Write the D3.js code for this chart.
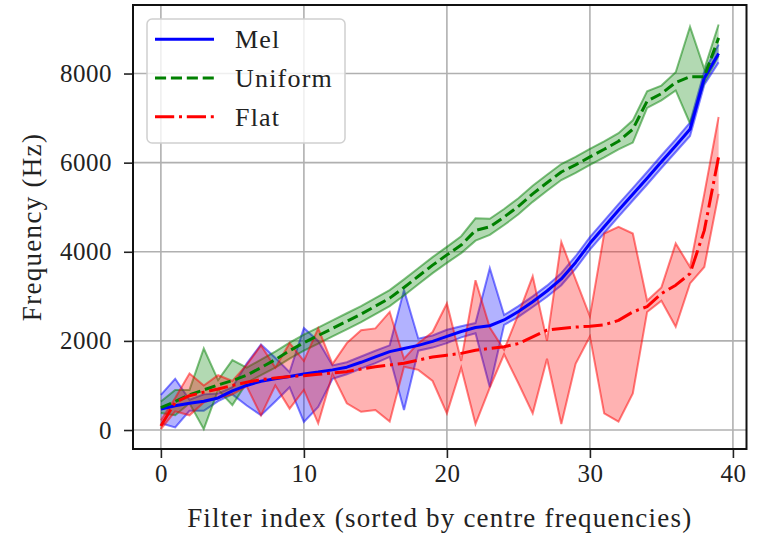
<!DOCTYPE html>
<html>
<head>
<meta charset="utf-8">
<script src="https://cdn.jsdelivr.net/npm/d3@7"></script>
<style>
  html, body { margin: 0; padding: 0; background: #fff; }
  svg { display: block; }
  text { font-family: "Liberation Serif", "DejaVu Serif", serif; fill: #222; }
</style>
</head>
<body>
<svg id="chart" width="765" height="533"></svg>
<script>
// Filter index (sorted by centre frequency)
const filterIndex = d3.range(40);

// Mel-initialised filters: mean centre frequency and spread
const melMean  = [470, 545, 600, 645, 720, 880, 1000, 1095, 1150, 1200, 1260, 1300, 1350, 1410, 1520, 1640, 1760, 1830, 1900, 1990,
                  2100, 2210, 2300, 2340, 2470, 2660, 2880, 3120, 3390, 3760, 4190, 4560, 4930, 5290, 5650, 6020, 6380, 6750, 7900, 8450];
const melLow   = [150, 60, 430, 430, 650, 800, 550, 330, 640, 960, 180, 520, 1150, 1250, 1380, 1500, 1640, 450, 1780, 1850,
                  1950, 2080, 2170, 960, 2360, 2540, 2760, 2990, 3250, 3620, 4050, 4420, 4790, 5150, 5510, 5880, 6240, 6600, 7750, 8250];
const melHigh  = [790, 1150, 680, 800, 820, 960, 1490, 1920, 1620, 1300, 2290, 2000, 1450, 1520, 1650, 1780, 1900, 3140, 2050, 2120,
                  2250, 2330, 2400, 3630, 2580, 2780, 3000, 3240, 3520, 3900, 4330, 4700, 5070, 5430, 5790, 6160, 6520, 6900, 8050, 8650];

// Uniformly initialised filters
const uniMean  = [500, 640, 790, 900, 1010, 1110, 1230, 1400, 1580, 1780, 1960, 2120, 2280, 2440, 2600, 2780, 2960, 3200, 3450, 3700,
                  3930, 4150, 4480, 4560, 4780, 5020, 5300, 5550, 5790, 5950, 6130, 6300, 6480, 6750, 7380, 7550, 7800, 7930, 7930, 8800];
const uniLow   = [380, 330, 600, 20, 900, 560, 1060, 1230, 1400, 1600, 1780, 1940, 2100, 2260, 2420, 2600, 2780, 3020, 3270, 3520,
                  3750, 3970, 4250, 4380, 4600, 4840, 5120, 5370, 5610, 5770, 5950, 6120, 6300, 6450, 7230, 7400, 7620, 6880, 7800, 8400];
const uniHigh  = [640, 900, 900, 1830, 1120, 1570, 1400, 1580, 1760, 1960, 2140, 2300, 2460, 2620, 2780, 2960, 3140, 3380, 3630, 3880,
                  4110, 4350, 4750, 4740, 4960, 5200, 5480, 5730, 5970, 6130, 6310, 6480, 6660, 6950, 7600, 7730, 8030, 9050, 8100, 9100];

// Flat-initialised filters
const flatMean = [90, 620, 770, 850, 920, 1000, 1070, 1130, 1170, 1200, 1220, 1250, 1280, 1310, 1370, 1420, 1460, 1500, 1570, 1640,
                  1680, 1720, 1790, 1830, 1870, 1940, 2090, 2240, 2280, 2310, 2330, 2360, 2460, 2650, 2770, 3060, 3250, 3510, 4480, 6130];
const flatLow  = [20, 420, 330, 620, 720, 800, 980, 330, 1000, 480, 900, 150, 1250, 600, 410, 450, 190, 1420, 1350, 1100,
                  375, 1400, 135, 950, 1700, 1050, 375, 1600, 135, 1485, 2100, 373, 187, 822, 2650, 2900, 2317, 3290, 3660, 5300];
const flatHigh = [220, 720, 1270, 1000, 1230, 1100, 1460, 1900, 1400, 1950, 1550, 2280, 1480, 1950, 2240, 2280, 2650, 1600, 1950, 2200,
                  2840, 1550, 3360, 2300, 1800, 2600, 3450, 2000, 4220, 3380, 2550, 4410, 4560, 4410, 2900, 3200, 4186, 3660, 5300, 7025];

const yTicks = [0, 2000, 4000, 6000, 8000];
const xTicks = [0, 10, 20, 30, 40];

const series = [
  { name: "Mel",     color: "#0000ff", mean: melMean,  low: melLow,  high: melHigh,  dash: null },
  { name: "Uniform", color: "#008000", mean: uniMean,  low: uniLow,  high: uniHigh,  dash: "11.1,4.8" },
  { name: "Flat",    color: "#ff0000", mean: flatMean, low: flatLow, high: flatHigh, dash: "19.2,4.8,3,4.8" }
];

const svg = d3.select("#chart");
const plot = { left: 133, right: 746.5, top: 5, bottom: 449 };

const x = d3.scaleLinear().domain([-1.95, 40.95]).range([plot.left, plot.right]);
const y = d3.scaleLinear().domain([-426, 9538]).range([plot.bottom, plot.top]);

// grid
const grid = svg.append("g").attr("stroke", "#b0b0b0").attr("stroke-width", 1.6);
xTicks.forEach(t => grid.append("line")
  .attr("x1", x(t)).attr("x2", x(t)).attr("y1", plot.top).attr("y2", plot.bottom));
yTicks.forEach(t => grid.append("line")
  .attr("x1", plot.left).attr("x2", plot.right).attr("y1", y(t)).attr("y2", y(t)));

// spread bands
series.forEach(s => {
  const area = d3.area()
    .x(i => x(filterIndex[i]))
    .y0(i => y(s.low[i]))
    .y1(i => y(s.high[i]));
  svg.append("path")
    .attr("d", area(filterIndex))
    .attr("fill", s.color)
    .attr("fill-opacity", 0.3)
    .attr("stroke", "none");
  [s.low, s.high].forEach(arr => {
    const edge = d3.line().x(i => x(filterIndex[i])).y(i => y(arr[i]));
    svg.append("path")
      .attr("d", edge(filterIndex))
      .attr("fill", "none")
      .attr("stroke", s.color)
      .attr("stroke-opacity", 0.5)
      .attr("stroke-width", 2)
      .attr("stroke-linejoin", "miter");
  });
});

// mean lines
series.forEach(s => {
  const line = d3.line().x(i => x(filterIndex[i])).y(i => y(s.mean[i]));
  svg.append("path")
    .attr("d", line(filterIndex))
    .attr("fill", "none")
    .attr("stroke", s.color)
    .attr("stroke-width", 3)
    .attr("stroke-dasharray", s.dash)
    .attr("stroke-linejoin", "round");
});

// axes
const xAxis = d3.axisBottom(x).tickValues(xTicks).tickSize(9).tickPadding(6).tickFormat(d3.format("d"));
const yAxis = d3.axisLeft(y).tickValues(yTicks).tickSize(9).tickPadding(12).tickFormat(d3.format("d"));

const gx = svg.append("g").attr("transform", `translate(0,${plot.bottom})`).call(xAxis);
const gy = svg.append("g").attr("transform", `translate(${plot.left},0)`).call(yAxis);
[gx, gy].forEach(g => {
  g.select(".domain").remove();
  g.selectAll(".tick line").attr("stroke", "#222").attr("stroke-width", 1.6);
  g.selectAll(".tick text").attr("font-size", 25).attr("fill", "#222")
    .attr("letter-spacing", 0.5)
    .attr("font-family", "Liberation Serif, DejaVu Serif, serif");
});

// frame
svg.append("rect")
  .attr("x", plot.left).attr("y", plot.top)
  .attr("width", plot.right - plot.left).attr("height", plot.bottom - plot.top)
  .attr("fill", "none").attr("stroke", "#111").attr("stroke-width", 2);

// axis titles
svg.append("text")
  .attr("x", (plot.left + plot.right) / 2).attr("y", 527)
  .attr("text-anchor", "middle").attr("font-size", 27).attr("letter-spacing", 1.2)
  .text("Filter index (sorted by centre frequencies)");
svg.append("text")
  .attr("transform", `translate(41,${(plot.top + plot.bottom) / 2}) rotate(-90)`)
  .attr("text-anchor", "middle").attr("font-size", 27).attr("letter-spacing", 1.3)
  .text("Frequency (Hz)");

// legend
const legend = svg.append("g");
legend.append("rect")
  .attr("x", 147).attr("y", 19).attr("width", 198).attr("height", 124)
  .attr("rx", 5).attr("ry", 5)
  .attr("fill", "#fff").attr("fill-opacity", 0.8)
  .attr("stroke", "#d0d0d0").attr("stroke-width", 1.5);
series.forEach((s, k) => {
  const ly = 39.3 + k * 38.7;
  legend.append("line")
    .attr("x1", 155).attr("x2", 214).attr("y1", ly).attr("y2", ly)
    .attr("stroke", s.color).attr("stroke-width", 3)
    .attr("stroke-dasharray", s.dash);
  legend.append("text")
    .attr("x", 235).attr("y", ly + 9)
    .attr("font-size", 26).attr("letter-spacing", 1.2)
    .text(s.name);
});
</script>
</body>
</html>
